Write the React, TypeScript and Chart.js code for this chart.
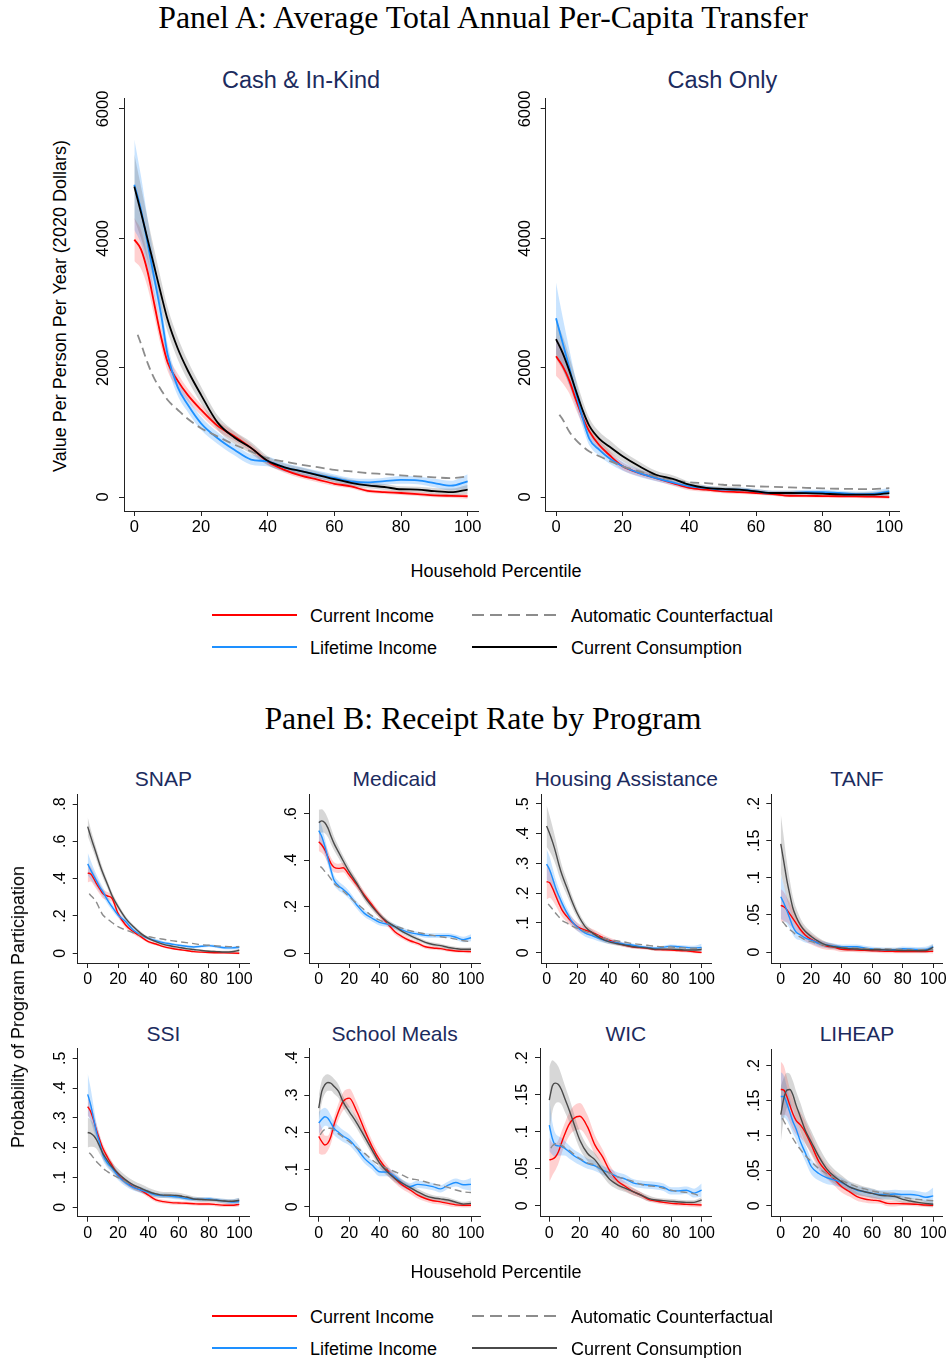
import React, { useEffect, useRef } from 'react';
import { Chart, registerables } from 'chart.js';
Chart.register(...registerables);

// ---------------- shared grids ----------------
const X = [0, 2, 4, 6, 8, 10, 13, 16, 20, 25, 30, 35, 40, 45, 50, 55, 60, 65, 70, 75, 80, 85, 90, 95, 100];
const X_AUTO = [1, 2, 4, 6, 8, 10, 13, 16, 20, 25, 30, 35, 40, 45, 50, 55, 60, 65, 70, 75, 80, 85, 90, 95, 100];
const X_TICKS = [0, 20, 40, 60, 80, 100];

// ---------------- Panel A: Cash & In-Kind ----------------
const A_Y_TICKS = [0, 2000, 4000, 6000];
const CIK_INC = [3980, 3830, 3480, 2980, 2480, 2080, 1800, 1580, 1350, 1100, 940, 760, 550, 420, 330, 270, 205, 165, 95, 75, 62, 46, 26, 18, 12];
const CIK_INC_CI = [330, 300, 240, 190, 150, 130, 110, 100, 85, 75, 70, 60, 50, 45, 40, 40, 35, 35, 30, 30, 30, 30, 30, 30, 40];
const CIK_LIFE = [4830, 4440, 3920, 3380, 2830, 2200, 1700, 1430, 1140, 910, 730, 580, 550, 460, 400, 345, 295, 240, 227, 245, 265, 258, 216, 175, 242];
const CIK_LIFE_CI = [700, 520, 380, 280, 200, 160, 130, 110, 100, 90, 85, 80, 75, 70, 65, 60, 55, 55, 55, 55, 60, 60, 65, 75, 110];
const CIK_AUTO = [2510, 2370, 2070, 1830, 1660, 1500, 1350, 1210, 1065, 937, 810, 705, 600, 550, 500, 463, 420, 397, 370, 355, 335, 320, 304, 293, 320];
const CIK_CONS = [4800, 4400, 3980, 3560, 3140, 2740, 2300, 1960, 1580, 1150, 920, 760, 560, 460, 400, 340, 275, 220, 180, 155, 120, 115, 90, 75, 115];
const CIK_CONS_CI = [500, 400, 320, 260, 220, 190, 170, 150, 130, 110, 100, 90, 70, 60, 55, 50, 50, 50, 45, 45, 45, 45, 50, 55, 70];

// ---------------- Panel A: Cash Only ----------------
const CO_INC = [2175, 2020, 1800, 1500, 1230, 1015, 800, 650, 475, 370, 294, 216, 140, 113, 88, 75, 62, 45, 20, 18, 15, 12, 10, 5, 0];
const CO_INC_CI = [300, 260, 200, 150, 110, 90, 80, 70, 60, 50, 45, 40, 35, 30, 30, 30, 25, 25, 25, 25, 25, 25, 25, 25, 30];
const CO_LIFE = [2765, 2380, 2000, 1600, 1220, 900, 730, 600, 475, 370, 294, 226, 165, 140, 113, 113, 88, 62, 62, 77, 77, 62, 46, 50, 88];
const CO_LIFE_CI = [550, 400, 280, 200, 140, 100, 90, 80, 70, 60, 50, 45, 40, 35, 35, 35, 35, 35, 35, 35, 35, 35, 40, 45, 60];
const CO_AUTO = [1272, 1200, 1010, 880, 783, 705, 630, 560, 475, 397, 320, 268, 227, 216, 190, 178, 165, 158, 150, 142, 134, 128, 124, 122, 139];
const CO_CONS = [2440, 2225, 1950, 1640, 1340, 1100, 900, 780, 630, 475, 345, 280, 190, 140, 125, 113, 88, 62, 62, 60, 52, 41, 36, 36, 62];
const CO_CONS_CI = [300, 260, 220, 180, 150, 120, 110, 100, 80, 70, 60, 55, 45, 40, 40, 40, 35, 35, 35, 35, 35, 35, 35, 40, 45];

// ---------------- Panel B: SNAP ----------------
const SNAP_Y = [0, 0.2, 0.4, 0.6, 0.8];
const SNAP_INC = [0.43, 0.425, 0.4, 0.37, 0.345, 0.32, 0.307, 0.295, 0.214, 0.152, 0.116, 0.089, 0.0625, 0.05, 0.036, 0.027, 0.02, 0.015, 0.009, 0.006, 0.004, 0.003, 0.002, 0.001, 0];
const SNAP_INC_CI = [0.05, 0.04, 0.035, 0.03, 0.028, 0.025, 0.022, 0.02, 0.018, 0.015, 0.012, 0.01, 0.008, 0.007, 0.006, 0.006, 0.005, 0.005, 0.005, 0.005, 0.005, 0.005, 0.005, 0.005, 0.006];
const SNAP_LIFE = [0.479, 0.446, 0.415, 0.385, 0.355, 0.33, 0.286, 0.25, 0.205, 0.17, 0.125, 0.098, 0.08, 0.068, 0.057, 0.05, 0.043, 0.0375, 0.034, 0.0375, 0.041, 0.036, 0.03, 0.029, 0.032];
const SNAP_LIFE_CI = [0.06, 0.05, 0.04, 0.033, 0.028, 0.024, 0.02, 0.018, 0.015, 0.013, 0.011, 0.01, 0.009, 0.008, 0.008, 0.007, 0.007, 0.007, 0.007, 0.007, 0.007, 0.007, 0.008, 0.008, 0.01];
const SNAP_AUTO = [0.32, 0.31, 0.293, 0.27, 0.235, 0.205, 0.185, 0.165, 0.143, 0.125, 0.11, 0.098, 0.089, 0.082, 0.075, 0.068, 0.0625, 0.057, 0.052, 0.046, 0.043, 0.04, 0.0375, 0.036, 0.036];
const SNAP_CONS = [0.679, 0.625, 0.575, 0.525, 0.475, 0.43, 0.37, 0.31, 0.25, 0.1875, 0.143, 0.107, 0.08, 0.0625, 0.048, 0.039, 0.032, 0.025, 0.02, 0.015, 0.011, 0.009, 0.007, 0.008, 0.016];
const SNAP_CONS_CI = [0.05, 0.04, 0.035, 0.03, 0.027, 0.025, 0.02, 0.018, 0.015, 0.012, 0.01, 0.01, 0.008, 0.007, 0.007, 0.006, 0.006, 0.006, 0.006, 0.006, 0.006, 0.006, 0.006, 0.007, 0.009];

// ---------------- Panel B: Medicaid ----------------
const MED_Y = [0, 0.2, 0.4, 0.6];
const MED_INC = [0.48, 0.466, 0.445, 0.415, 0.387, 0.37, 0.365, 0.368, 0.337, 0.294, 0.25, 0.207, 0.164, 0.128, 0.092, 0.07, 0.053, 0.042, 0.027, 0.022, 0.019, 0.013, 0.009, 0.007, 0.006];
const MED_INC_CI = [0.04, 0.035, 0.03, 0.027, 0.025, 0.022, 0.02, 0.02, 0.02, 0.018, 0.016, 0.015, 0.014, 0.013, 0.012, 0.011, 0.01, 0.009, 0.008, 0.008, 0.007, 0.007, 0.007, 0.007, 0.007];
const MED_LIFE = [0.528, 0.502, 0.46, 0.41, 0.358, 0.315, 0.29, 0.275, 0.25, 0.207, 0.171, 0.15, 0.132, 0.125, 0.114, 0.099, 0.088, 0.082, 0.076, 0.075, 0.075, 0.075, 0.068, 0.058, 0.066];
const MED_LIFE_CI = [0.05, 0.045, 0.035, 0.03, 0.025, 0.022, 0.02, 0.018, 0.017, 0.016, 0.015, 0.014, 0.013, 0.012, 0.011, 0.011, 0.01, 0.01, 0.01, 0.01, 0.01, 0.01, 0.011, 0.012, 0.015];
const MED_AUTO = [0.373, 0.368, 0.352, 0.338, 0.32, 0.3, 0.285, 0.268, 0.243, 0.214, 0.186, 0.16, 0.142, 0.128, 0.117, 0.106, 0.096, 0.089, 0.082, 0.076, 0.07, 0.066, 0.06, 0.053, 0.049];
const MED_CONS = [0.563, 0.57, 0.562, 0.54, 0.505, 0.473, 0.435, 0.398, 0.351, 0.3, 0.243, 0.2, 0.164, 0.135, 0.114, 0.092, 0.075, 0.06, 0.046, 0.037, 0.032, 0.024, 0.019, 0.016, 0.016];
const MED_CONS_CI = [0.055, 0.05, 0.045, 0.04, 0.035, 0.03, 0.025, 0.022, 0.02, 0.018, 0.016, 0.014, 0.012, 0.011, 0.01, 0.01, 0.009, 0.009, 0.008, 0.008, 0.008, 0.008, 0.008, 0.008, 0.009];

// ---------------- Panel B: Housing Assistance ----------------
const HOUS_Y = [0, 0.1, 0.2, 0.3, 0.4, 0.5];
const HOUS_INC = [0.239, 0.235, 0.215, 0.19, 0.165, 0.143, 0.122, 0.105, 0.087, 0.076, 0.067, 0.054, 0.043, 0.034, 0.026, 0.02, 0.017, 0.015, 0.011, 0.01, 0.009, 0.007, 0.006, 0.003, 0.001];
const HOUS_INC_CI = [0.06, 0.05, 0.04, 0.033, 0.027, 0.022, 0.018, 0.016, 0.014, 0.013, 0.012, 0.011, 0.009, 0.008, 0.007, 0.006, 0.005, 0.005, 0.005, 0.005, 0.005, 0.005, 0.005, 0.005, 0.005];
const HOUS_LIFE = [0.298, 0.278, 0.248, 0.215, 0.19, 0.166, 0.135, 0.108, 0.085, 0.066, 0.056, 0.046, 0.038, 0.034, 0.029, 0.026, 0.021, 0.018, 0.015, 0.018, 0.022, 0.02, 0.018, 0.016, 0.018];
const HOUS_LIFE_CI = [0.05, 0.045, 0.035, 0.03, 0.025, 0.02, 0.017, 0.015, 0.013, 0.012, 0.011, 0.01, 0.008, 0.007, 0.006, 0.006, 0.005, 0.005, 0.005, 0.005, 0.006, 0.006, 0.006, 0.007, 0.012];
const HOUS_AUTO = [0.164, 0.158, 0.145, 0.132, 0.12, 0.108, 0.1, 0.09, 0.082, 0.071, 0.062, 0.054, 0.045, 0.04, 0.036, 0.031, 0.028, 0.025, 0.022, 0.02, 0.019, 0.017, 0.016, 0.015, 0.015];
const HOUS_CONS = [0.426, 0.4, 0.37, 0.335, 0.295, 0.261, 0.22, 0.178, 0.13, 0.087, 0.065, 0.048, 0.037, 0.031, 0.026, 0.021, 0.018, 0.016, 0.012, 0.012, 0.012, 0.011, 0.009, 0.009, 0.011];
const HOUS_CONS_CI = [0.07, 0.06, 0.05, 0.042, 0.035, 0.03, 0.025, 0.02, 0.015, 0.012, 0.01, 0.009, 0.008, 0.007, 0.006, 0.006, 0.005, 0.005, 0.005, 0.005, 0.005, 0.005, 0.005, 0.005, 0.006];

// ---------------- Panel B: TANF ----------------
const TANF_Y = [0, 0.05, 0.1, 0.15, 0.2];
const TANF_INC = [0.063, 0.061, 0.057, 0.051, 0.045, 0.039, 0.03, 0.023, 0.017, 0.0117, 0.008, 0.0063, 0.0036, 0.003, 0.0027, 0.0022, 0.0018, 0.0013, 0.0009, 0.0008, 0.0007, 0.0007, 0.0007, 0.0008, 0.001];
const TANF_INC_CI = [0.022, 0.02, 0.017, 0.015, 0.013, 0.011, 0.009, 0.008, 0.007, 0.006, 0.005, 0.004, 0.0035, 0.003, 0.003, 0.003, 0.0025, 0.0025, 0.0025, 0.0025, 0.0025, 0.0025, 0.0025, 0.0025, 0.003];
const TANF_LIFE = [0.0745, 0.066, 0.056, 0.045, 0.034, 0.027, 0.023, 0.019, 0.016, 0.0117, 0.0094, 0.008, 0.0072, 0.0072, 0.0072, 0.0054, 0.004, 0.0035, 0.003, 0.003, 0.0045, 0.004, 0.0035, 0.0035, 0.0072];
const TANF_LIFE_CI = [0.03, 0.024, 0.018, 0.014, 0.011, 0.009, 0.007, 0.006, 0.005, 0.0045, 0.004, 0.0035, 0.003, 0.003, 0.003, 0.003, 0.003, 0.003, 0.003, 0.003, 0.003, 0.003, 0.003, 0.0035, 0.004];
const TANF_AUTO = [0.041, 0.039, 0.034, 0.03, 0.027, 0.023, 0.02, 0.0165, 0.014, 0.0108, 0.0085, 0.0072, 0.0063, 0.0056, 0.005, 0.0047, 0.0045, 0.0042, 0.004, 0.0038, 0.0036, 0.0033, 0.003, 0.003, 0.003];
const TANF_CONS = [0.146, 0.122, 0.097, 0.077, 0.059, 0.048, 0.036, 0.028, 0.021, 0.014, 0.0094, 0.0072, 0.0054, 0.0045, 0.004, 0.0035, 0.003, 0.003, 0.0027, 0.0025, 0.002, 0.002, 0.0018, 0.002, 0.0063];
const TANF_CONS_CI = [0.04, 0.032, 0.025, 0.019, 0.015, 0.012, 0.009, 0.007, 0.006, 0.005, 0.004, 0.0035, 0.003, 0.003, 0.003, 0.0025, 0.0025, 0.0025, 0.0025, 0.0025, 0.0025, 0.0025, 0.0025, 0.003, 0.004];

// ---------------- Panel B: SSI ----------------
const SSI_Y = [0, 0.1, 0.2, 0.3, 0.4, 0.5];
const SSI_INC = [0.338, 0.321, 0.29, 0.255, 0.225, 0.198, 0.168, 0.142, 0.109, 0.086, 0.069, 0.058, 0.041, 0.025, 0.019, 0.0157, 0.0145, 0.0134, 0.012, 0.011, 0.011, 0.009, 0.0067, 0.0067, 0.01];
const SSI_INC_CI = [0.03, 0.027, 0.023, 0.02, 0.017, 0.015, 0.013, 0.012, 0.011, 0.01, 0.009, 0.008, 0.008, 0.007, 0.006, 0.006, 0.006, 0.006, 0.006, 0.006, 0.006, 0.006, 0.006, 0.006, 0.007];
const SSI_LIFE = [0.379, 0.343, 0.295, 0.248, 0.215, 0.176, 0.148, 0.132, 0.105, 0.083, 0.067, 0.058, 0.05, 0.041, 0.039, 0.037, 0.034, 0.029, 0.027, 0.027, 0.028, 0.0246, 0.021, 0.018, 0.019];
const SSI_LIFE_CI = [0.07, 0.055, 0.04, 0.03, 0.024, 0.018, 0.015, 0.014, 0.013, 0.012, 0.011, 0.01, 0.009, 0.008, 0.008, 0.008, 0.008, 0.007, 0.007, 0.007, 0.007, 0.007, 0.008, 0.009, 0.012];
const SSI_AUTO = [0.183, 0.178, 0.165, 0.152, 0.142, 0.131, 0.12, 0.11, 0.1, 0.086, 0.073, 0.062, 0.053, 0.045, 0.041, 0.04, 0.04, 0.036, 0.03, 0.027, 0.025, 0.0235, 0.021, 0.021, 0.0235];
const SSI_CONS = [0.251, 0.248, 0.24, 0.225, 0.203, 0.181, 0.157, 0.136, 0.114, 0.092, 0.075, 0.064, 0.053, 0.045, 0.041, 0.041, 0.039, 0.034, 0.028, 0.026, 0.025, 0.0235, 0.021, 0.02, 0.0235];
const SSI_CONS_CI = [0.05, 0.045, 0.038, 0.03, 0.025, 0.02, 0.018, 0.016, 0.015, 0.015, 0.015, 0.014, 0.013, 0.011, 0.01, 0.01, 0.01, 0.009, 0.008, 0.008, 0.007, 0.007, 0.007, 0.007, 0.009];

// ---------------- Panel B: School Meals ----------------
const SCH_Y = [0, 0.1, 0.2, 0.3, 0.4];
const SCH_INC = [0.189, 0.175, 0.166, 0.171, 0.189, 0.22, 0.256, 0.283, 0.292, 0.256, 0.207, 0.162, 0.126, 0.099, 0.076, 0.058, 0.045, 0.031, 0.022, 0.016, 0.013, 0.009, 0.005, 0.004, 0.004];
const SCH_INC_CI = [0.045, 0.035, 0.025, 0.02, 0.02, 0.02, 0.022, 0.024, 0.025, 0.024, 0.02, 0.017, 0.015, 0.013, 0.012, 0.011, 0.01, 0.009, 0.008, 0.008, 0.007, 0.007, 0.006, 0.006, 0.006];
const SCH_LIFE = [0.225, 0.235, 0.242, 0.238, 0.225, 0.211, 0.2, 0.19, 0.18, 0.157, 0.13, 0.112, 0.094, 0.093, 0.081, 0.063, 0.054, 0.06, 0.058, 0.054, 0.048, 0.058, 0.065, 0.059, 0.06];
const SCH_LIFE_CI = [0.03, 0.027, 0.024, 0.022, 0.02, 0.018, 0.017, 0.016, 0.015, 0.014, 0.013, 0.012, 0.012, 0.011, 0.011, 0.01, 0.01, 0.01, 0.01, 0.01, 0.01, 0.01, 0.011, 0.012, 0.017];
const SCH_AUTO = [0.193, 0.2, 0.208, 0.211, 0.211, 0.205, 0.196, 0.187, 0.175, 0.159, 0.144, 0.126, 0.112, 0.103, 0.094, 0.085, 0.076, 0.072, 0.067, 0.061, 0.057, 0.052, 0.045, 0.04, 0.038];
const SCH_CONS = [0.265, 0.31, 0.328, 0.334, 0.332, 0.324, 0.31, 0.282, 0.256, 0.225, 0.189, 0.153, 0.117, 0.094, 0.076, 0.063, 0.051, 0.04, 0.03, 0.024, 0.021, 0.018, 0.012, 0.007, 0.009];
const SCH_CONS_CI = [0.035, 0.03, 0.025, 0.022, 0.02, 0.02, 0.018, 0.016, 0.015, 0.015, 0.014, 0.013, 0.012, 0.011, 0.01, 0.009, 0.008, 0.008, 0.008, 0.007, 0.007, 0.007, 0.006, 0.006, 0.007];

// ---------------- Panel B: WIC ----------------
const WIC_Y = [0, 0.05, 0.1, 0.15, 0.2];
const WIC_INC = [0.062, 0.063, 0.066, 0.073, 0.085, 0.096, 0.11, 0.118, 0.121, 0.107, 0.082, 0.066, 0.046, 0.033, 0.026, 0.019, 0.0145, 0.0086, 0.0063, 0.0045, 0.0032, 0.0025, 0.0018, 0.0014, 0.001];
const WIC_INC_CI = [0.03, 0.022, 0.018, 0.016, 0.015, 0.015, 0.016, 0.017, 0.018, 0.016, 0.013, 0.01, 0.008, 0.007, 0.006, 0.005, 0.004, 0.003, 0.003, 0.003, 0.003, 0.003, 0.003, 0.003, 0.003];
const WIC_LIFE = [0.109, 0.091, 0.082, 0.081, 0.08, 0.078, 0.073, 0.068, 0.063, 0.057, 0.054, 0.048, 0.044, 0.039, 0.036, 0.031, 0.029, 0.028, 0.027, 0.025, 0.02, 0.02, 0.021, 0.017, 0.021];
const WIC_LIFE_CI = [0.035, 0.022, 0.016, 0.013, 0.012, 0.01, 0.009, 0.008, 0.008, 0.007, 0.007, 0.006, 0.006, 0.006, 0.006, 0.005, 0.005, 0.005, 0.005, 0.005, 0.005, 0.005, 0.005, 0.006, 0.009];
const WIC_AUTO = [0.078, 0.081, 0.084, 0.085, 0.082, 0.079, 0.075, 0.07, 0.064, 0.058, 0.055, 0.049, 0.044, 0.039, 0.036, 0.033, 0.029, 0.027, 0.026, 0.0235, 0.021, 0.019, 0.018, 0.016, 0.012];
const WIC_CONS = [0.143, 0.162, 0.166, 0.164, 0.157, 0.146, 0.13, 0.112, 0.089, 0.071, 0.062, 0.048, 0.035, 0.028, 0.0235, 0.019, 0.0145, 0.01, 0.0077, 0.0068, 0.0059, 0.005, 0.0045, 0.0045, 0.0077];
const WIC_CONS_CI = [0.045, 0.035, 0.028, 0.024, 0.02, 0.018, 0.016, 0.014, 0.012, 0.01, 0.009, 0.008, 0.007, 0.006, 0.005, 0.005, 0.004, 0.004, 0.003, 0.003, 0.003, 0.003, 0.003, 0.003, 0.004];

// ---------------- Panel B: LIHEAP ----------------
const LIH_Y = [0, 0.05, 0.1, 0.15, 0.2];
const LIH_INC = [0.166, 0.165, 0.156, 0.143, 0.131, 0.122, 0.115, 0.105, 0.087, 0.063, 0.049, 0.038, 0.027, 0.02, 0.013, 0.0095, 0.008, 0.0067, 0.0033, 0.003, 0.0029, 0.0025, 0.0019, 0.001, 0.0005];
const LIH_INC_CI = [0.04, 0.035, 0.028, 0.024, 0.022, 0.02, 0.018, 0.016, 0.014, 0.012, 0.01, 0.009, 0.008, 0.007, 0.006, 0.005, 0.005, 0.004, 0.004, 0.004, 0.003, 0.003, 0.003, 0.003, 0.003];
const LIH_LIFE = [0.156, 0.156, 0.146, 0.133, 0.12, 0.11, 0.091, 0.076, 0.056, 0.046, 0.04, 0.037, 0.033, 0.027, 0.022, 0.02, 0.0176, 0.016, 0.016, 0.0167, 0.016, 0.016, 0.0148, 0.012, 0.014];
const LIH_LIFE_CI = [0.035, 0.03, 0.024, 0.02, 0.017, 0.015, 0.013, 0.012, 0.011, 0.01, 0.009, 0.008, 0.007, 0.007, 0.006, 0.006, 0.006, 0.006, 0.006, 0.006, 0.006, 0.006, 0.006, 0.007, 0.012];
const LIH_AUTO = [0.125, 0.121, 0.113, 0.105, 0.096, 0.089, 0.08, 0.072, 0.063, 0.053, 0.046, 0.04, 0.036, 0.031, 0.027, 0.024, 0.021, 0.019, 0.017, 0.014, 0.012, 0.01, 0.009, 0.008, 0.007];
const LIH_CONS = [0.13, 0.153, 0.165, 0.166, 0.158, 0.144, 0.126, 0.108, 0.091, 0.07, 0.053, 0.042, 0.034, 0.027, 0.023, 0.02, 0.0176, 0.015, 0.014, 0.013, 0.009, 0.0067, 0.0048, 0.0033, 0.002];
const LIH_CONS_CI = [0.04, 0.03, 0.025, 0.022, 0.02, 0.02, 0.02, 0.018, 0.016, 0.014, 0.012, 0.01, 0.009, 0.008, 0.008, 0.007, 0.007, 0.006, 0.006, 0.006, 0.005, 0.005, 0.004, 0.004, 0.004];

// ---------------- labels ----------------
const LEGEND_LABELS = ['Current Income', 'Lifetime Income', 'Automatic Counterfactual', 'Current Consumption'];

// ---------------- styles ----------------
const SANS = '"Liberation Sans", Arial, Helvetica, sans-serif';
const SERIF = '"Liberation Serif", "Times New Roman", Times, serif';
const NAVY = '#1c2b5e';
const RED = 'rgb(255,0,0)';
const BLUE = 'rgb(30,144,255)';
const RED_BAND = 'rgba(255,40,40,0.22)';
const BLUE_BAND = 'rgba(30,144,255,0.24)';
const GRAY_BAND = 'rgba(110,110,110,0.28)';
const DASH_COLOR = '#8c8c8c';
const AXIS = '#222';

type PanelCfg = {
  title: string; big: boolean;
  inc: number[]; incCI: number[]; life: number[]; lifeCI: number[];
  auto: number[]; cons: number[]; consCI: number[];
  yTicks: number[];
  box: number[]; xr: number[]; yr: number[];
};

const PANELS: PanelCfg[] = [
  { title: 'Cash & In-Kind', big: true, inc: CIK_INC, incCI: CIK_INC_CI, life: CIK_LIFE, lifeCI: CIK_LIFE_CI, auto: CIK_AUTO, cons: CIK_CONS, consCI: CIK_CONS_CI, yTicks: A_Y_TICKS, box: [124, 98, 478, 511], xr: [-3.1, 103.1], yr: [-216, 6170] },
  { title: 'Cash Only', big: true, inc: CO_INC, incCI: CO_INC_CI, life: CO_LIFE, lifeCI: CO_LIFE_CI, auto: CO_AUTO, cons: CO_CONS, consCI: CO_CONS_CI, yTicks: A_Y_TICKS, box: [545.7, 98, 899, 511], xr: [-3.1, 102.9], yr: [-216, 6170] },
  { title: 'SNAP', big: false, inc: SNAP_INC, incCI: SNAP_INC_CI, life: SNAP_LIFE, lifeCI: SNAP_LIFE_CI, auto: SNAP_AUTO, cons: SNAP_CONS, consCI: SNAP_CONS_CI, yTicks: SNAP_Y, box: [77.7, 794, 249, 963], xr: [-6.6, 106.4], yr: [-0.052, 0.8536] },
  { title: 'Medicaid', big: false, inc: MED_INC, incCI: MED_INC_CI, life: MED_LIFE, lifeCI: MED_LIFE_CI, auto: MED_AUTO, cons: MED_CONS, consCI: MED_CONS_CI, yTicks: MED_Y, box: [309, 794, 480, 963], xr: [-6.4, 105.9], yr: [-0.043, 0.686] },
  { title: 'Housing Assistance', big: false, inc: HOUS_INC, incCI: HOUS_INC_CI, life: HOUS_LIFE, lifeCI: HOUS_LIFE_CI, auto: HOUS_AUTO, cons: HOUS_CONS, consCI: HOUS_CONS_CI, yTicks: HOUS_Y, box: [541, 794, 711.7, 963], xr: [-3.6, 106.5], yr: [-0.0346, 0.5336] },
  { title: 'TANF', big: false, inc: TANF_INC, incCI: TANF_INC_CI, life: TANF_LIFE, lifeCI: TANF_LIFE_CI, auto: TANF_AUTO, cons: TANF_CONS, consCI: TANF_CONS_CI, yTicks: TANF_Y, box: [771.3, 794, 942.7, 963], xr: [-6.2, 106.2], yr: [-0.0148, 0.2131] },
  { title: 'SSI', big: false, inc: SSI_INC, incCI: SSI_INC_CI, life: SSI_LIFE, lifeCI: SSI_LIFE_CI, auto: SSI_AUTO, cons: SSI_CONS, consCI: SSI_CONS_CI, yTicks: SSI_Y, box: [77.7, 1048.3, 249.3, 1216.7], xr: [-6.6, 106.6], yr: [-0.0315, 0.5336] },
  { title: 'School Meals', big: false, inc: SCH_INC, incCI: SCH_INC_CI, life: SCH_LIFE, lifeCI: SCH_LIFE_CI, auto: SCH_AUTO, cons: SCH_CONS, consCI: SCH_CONS_CI, yTicks: SCH_Y, box: [309.3, 1048.3, 480, 1216.7], xr: [-6.2, 105.9], yr: [-0.0269, 0.426] },
  { title: 'WIC', big: false, inc: WIC_INC, incCI: WIC_INC_CI, life: WIC_LIFE, lifeCI: WIC_LIFE_CI, auto: WIC_AUTO, cons: WIC_CONS, consCI: WIC_CONS_CI, yTicks: WIC_Y, box: [540, 1048.3, 711.7, 1216.7], xr: [-6.1, 106.6], yr: [-0.0149, 0.2131] },
  { title: 'LIHEAP', big: false, inc: LIH_INC, incCI: LIH_INC_CI, life: LIH_LIFE, lifeCI: LIH_LIFE_CI, auto: LIH_AUTO, cons: LIH_CONS, consCI: LIH_CONS_CI, yTicks: LIH_Y, box: [771.3, 1049.3, 942.7, 1216.7], xr: [-6.2, 106.2], yr: [-0.0157, 0.2234] },
];

const fmtY = (v: number, big: boolean) => (big ? String(v) : v === 0 ? '0' : String(v).replace(/^0\./, '.'));

const YW = 40;
const XH = 34;
const PAD = 12;

function Panel({ cfg }: { cfg: PanelCfg }) {
  const ref = useRef<HTMLCanvasElement>(null);
  const [l, t, r, b] = cfg.box;
  const cl = Math.floor(l - YW - PAD);
  const ct = Math.floor(t - PAD);
  const cw = Math.ceil(r + PAD) - cl;
  const ch = Math.ceil(b + XH + PAD) - ct;

  useEffect(() => {
    const big = cfg.big;
    const consColor = big ? '#000000' : '#4a4a4a';
    const lw = big ? 1.8 : 1.4;
    const fs = big ? 16.5 : 16;
    const mk = (xs: number[], ys: number[]) => xs.map((x, i) => ({ x, y: ys[i] }));
    const off = (ys: number[], hw: number[], s: number) => X.map((x, i) => ({ x, y: ys[i] + s * hw[i] }));
    const line = (data: any, color: string, dash?: number[]) => ({
      data, borderColor: color, borderWidth: lw, borderDash: dash || [], pointRadius: 0,
      fill: false, cubicInterpolationMode: 'monotone',
    });
    const edge = (data: any, fill: any, bg: string) => ({
      data, borderColor: 'rgba(0,0,0,0)', borderWidth: 1, pointRadius: 0,
      fill, backgroundColor: bg, cubicInterpolationMode: 'monotone',
    });
    const datasets: any[] = [
      line(mk(X, cfg.cons), consColor),
      line(mk(X_AUTO, cfg.auto), DASH_COLOR, big ? [9, 5] : [7, 4]),
      line(mk(X, cfg.life), BLUE),
      line(mk(X, cfg.inc), RED),
      edge(off(cfg.cons, cfg.consCI, -1), false, 'rgba(0,0,0,0)'),
      edge(off(cfg.cons, cfg.consCI, 1), 4, GRAY_BAND),
      edge(off(cfg.life, cfg.lifeCI, -1), false, 'rgba(0,0,0,0)'),
      edge(off(cfg.life, cfg.lifeCI, 1), 6, BLUE_BAND),
      edge(off(cfg.inc, cfg.incCI, -1), false, 'rgba(0,0,0,0)'),
      edge(off(cfg.inc, cfg.incCI, 1), 8, RED_BAND),
    ];
    const yDist = big ? 20.7 : 17;
    const yLabels = {
      id: 'yLabels',
      afterDraw(chart: any) {
        const s = chart.scales.y;
        const ctx = chart.ctx;
        ctx.save();
        ctx.fillStyle = '#000';
        ctx.font = `${fs}px ${SANS}`;
        ctx.textAlign = 'center';
        ctx.textBaseline = 'middle';
        const x = chart.chartArea.left - yDist;
        cfg.yTicks.forEach((v) => {
          ctx.save();
          ctx.translate(x, s.getPixelForValue(v));
          ctx.rotate(-Math.PI / 2);
          ctx.fillText(fmtY(v, big), 0, 0);
          ctx.restore();
        });
        ctx.restore();
      },
    };
    const gridOpts = { display: true, drawOnChartArea: false, drawTicks: true, tickLength: 5, color: AXIS, lineWidth: 1 };
    const chart = new Chart(ref.current as HTMLCanvasElement, {
      type: 'line',
      data: { datasets },
      options: {
        animation: false,
        responsive: false,
        devicePixelRatio: 1,
        events: [],
        layout: { padding: { left: l - YW - cl, top: t - ct, right: cl + cw - r, bottom: ct + ch - b - XH } },
        plugins: { legend: { display: false }, tooltip: { enabled: false }, title: { display: false } },
        scales: {
          x: {
            type: 'linear', min: cfg.xr[0], max: cfg.xr[1],
            afterBuildTicks: (s: any) => { s.ticks = X_TICKS.map((v) => ({ value: v })); },
            afterFit: (s: any) => { s.height = XH; },
            grid: gridOpts,
            border: { display: true, color: AXIS, width: 1 },
            ticks: { color: '#000', font: { family: SANS, size: fs }, padding: big ? 2 : 2, maxRotation: 0, minRotation: 0, autoSkip: false, callback: (v: any) => String(v) },
          },
          y: {
            type: 'linear', min: cfg.yr[0], max: cfg.yr[1],
            afterBuildTicks: (s: any) => { s.ticks = cfg.yTicks.map((v) => ({ value: v })); },
            afterFit: (s: any) => { s.width = YW; },
            grid: gridOpts,
            border: { display: true, color: AXIS, width: 1 },
            ticks: { display: false },
          },
        },
      } as any,
      plugins: [yLabels],
    } as any);
    return () => chart.destroy();
  }, [cfg]);

  return (
    <canvas
      ref={ref}
      width={cw}
      height={ch}
      style={{ position: 'absolute', left: cl, top: ct, width: cw, height: ch }}
    />
  );
}

function Txt({ x, y, size, children, serif, color, rotate, align }: any) {
  const tr = align === 'left' ? 'translate(0,-50%)' : 'translate(-50%,-50%)';
  return (
    <div
      style={{
        position: 'absolute', left: x, top: y, transform: tr + (rotate ? ' rotate(-90deg)' : ''),
        whiteSpace: 'nowrap', lineHeight: 1, fontFamily: serif ? SERIF : SANS, fontSize: size,
        color: color || '#000',
      }}
    >
      {children}
    </div>
  );
}

function Legend({ y, consColor }: { y: number; consColor: string }) {
  const row2 = y + 32;
  const solid = (x: number, yy: number, c: string) => (
    <div style={{ position: 'absolute', left: x, top: yy - 1, width: 85, height: 2, background: c }} />
  );
  return (
    <>
      {solid(212, y, RED)}
      <Txt x={310} y={y + 0.5} size={18} align="left">{LEGEND_LABELS[0]}</Txt>
      <div style={{ position: 'absolute', left: 472, top: y - 1, width: 86, height: 2, background: `repeating-linear-gradient(to right, ${DASH_COLOR} 0px, ${DASH_COLOR} 12px, transparent 12px, transparent 18px)` }} />
      <Txt x={571} y={y + 0.5} size={18} align="left">{LEGEND_LABELS[2]}</Txt>
      {solid(212, row2, BLUE)}
      <Txt x={310} y={row2 + 0.5} size={18} align="left">{LEGEND_LABELS[1]}</Txt>
      {solid(472, row2, consColor)}
      <Txt x={571} y={row2 + 0.5} size={18} align="left">{LEGEND_LABELS[3]}</Txt>
    </>
  );
}

export default function App() {
  return (
    <div style={{ position: 'absolute', left: 0, top: 0, width: 948, height: 1358, background: '#fff', overflow: 'hidden' }}>
      <Txt x={483} y={18} size={31.8} serif>Panel A: Average Total Annual Per-Capita Transfer</Txt>
      <Txt x={483} y={719} size={31.8} serif>Panel B: Receipt Rate by Program</Txt>
      {PANELS.map((p, i) => (
        <Txt key={'t' + i} x={(p.box[0] + p.box[2]) / 2} y={p.big ? 80.5 : p.box[1] < 1000 ? 778 : 1033} size={p.big ? 23.5 : 21} color={NAVY}>
          {p.title}
        </Txt>
      ))}
      {PANELS.map((p, i) => (
        <Panel key={'p' + i} cfg={p} />
      ))}
      <Txt x={60} y={306} size={18} rotate>Value Per Person Per Year (2020 Dollars)</Txt>
      <Txt x={496} y={571} size={18}>Household Percentile</Txt>
      <Legend y={615} consColor="#000000" />
      <Txt x={18} y={1007} size={18} rotate>Probability of Program Participation</Txt>
      <Txt x={496} y={1272} size={18}>Household Percentile</Txt>
      <Legend y={1316} consColor="#4a4a4a" />
    </div>
  );
}
